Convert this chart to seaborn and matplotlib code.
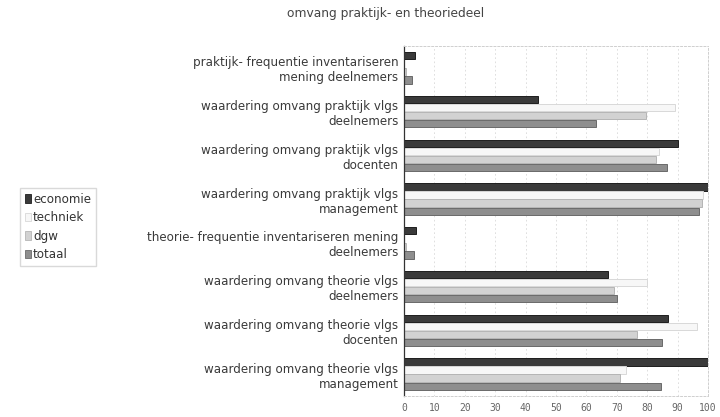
import matplotlib
matplotlib.use("Agg")
import matplotlib.pyplot as plt
from matplotlib.patches import Patch
import seaborn as sns
import pandas as pd

# Survey results: share of positive answers per group of respondents
categories = [
    "praktijk- frequentie inventariseren\nmening deelnemers",
    "waardering omvang praktijk vlgs\ndeelnemers",
    "waardering omvang praktijk vlgs\ndocenten",
    "waardering omvang praktijk vlgs\nmanagement",
    "theorie- frequentie inventariseren mening\ndeelnemers",
    "waardering omvang theorie vlgs\ndeelnemers",
    "waardering omvang theorie vlgs\ndocenten",
    "waardering omvang theorie vlgs\nmanagement",
]
series = ["economie", "techniek", "dgw", "totaal"]
economie = [3.5, 44, 90, 100, 4, 67, 87, 100]
techniek = [0, 89, 84, 98.5, 0, 80, 96.5, 73]
dgw = [0.6, 79.5, 83, 98, 0.6, 69, 76.5, 71]
totaal = [2.5, 63, 86.5, 97, 3.2, 70, 85, 84.5]
x_ticks = [0, 10, 20, 30, 40, 50, 60, 70, 80, 90, 100]
title = "omvang praktijk- en theoriedeel"

values = {"economie": economie, "techniek": techniek, "dgw": dgw, "totaal": totaal}
df = pd.DataFrame(
    [(cat, s, values[s][i]) for i, cat in enumerate(categories) for s in series],
    columns=["categorie", "reeks", "waarde"],
)

fills = {"economie": "#3a3a3a", "techniek": "#f7f7f7", "dgw": "#d2d2d2", "totaal": "#8e8e8e"}
edges = {"economie": "#1e1e1e", "techniek": "#d8d8d8", "dgw": "#b5b5b5", "totaal": "#6a6a6a"}

sns.set_style("white")
plt.rcParams["font.family"] = ["DejaVu Sans"]

fig = plt.figure(figsize=(7.2, 4.17), dpi=100)
ax = fig.add_axes([404 / 720, 1 - 396 / 417, 304 / 720, 350 / 417])

sns.barplot(
    data=df, y="categorie", x="waarde", hue="reeks",
    order=categories, hue_order=series, palette=fills,
    orient="h", width=0.74, gap=0.08, linewidth=0.7,
    legend=False, ax=ax,
)
for cont, s in zip(ax.containers, series):
    for bar in cont:
        bar.set_edgecolor(edges[s])

ax.set_xlim(0, 100)
ax.set_xticks(x_ticks)
ax.set_xticklabels([str(t) for t in x_ticks], fontsize=7, color="#666666",
                   family="DejaVu Sans Mono")
ax.tick_params(axis="x", length=0, pad=5)
ax.tick_params(axis="y", length=0, pad=4, labelsize=8.6, labelcolor="#3a3a3a")
ax.set_xlabel("")
ax.set_ylabel("")

ax.grid(axis="x", color="#d9d9d9", linestyle=(0, (2, 3)), linewidth=0.6)
ax.set_axisbelow(True)
for side in ["top", "right", "bottom"]:
    ax.spines[side].set_color("#cfcfcf")
    ax.spines[side].set_linestyle((0, (2, 2)))
    ax.spines[side].set_linewidth(0.7)
ax.spines["left"].set_color("#333333")
ax.spines["left"].set_linewidth(0.9)

for lab in ax.get_yticklabels():
    lab.set_horizontalalignment("right")
    lab.set_multialignment("right")
    lab.set_linespacing(1.2)

fig.text(386 / 720, 1 - 14 / 417, title, ha="center", va="center",
         fontsize=8.8, color="#444444")

handles = [Patch(facecolor=fills[s], edgecolor=edges[s], linewidth=0.6, label=s)
           for s in series]
fig.legend(
    handles=handles, loc="upper left", bbox_to_anchor=(20 / 720, 1 - 188 / 417),
    frameon=True, fancybox=False, edgecolor="#d0d0d0", fontsize=8.6,
    handlelength=0.55, handleheight=0.7, handletextpad=0.15,
    labelspacing=0.45, borderpad=0.4, borderaxespad=0,
    labelcolor="#333333",
)

fig.savefig("out.png", dpi=100, facecolor="white")
